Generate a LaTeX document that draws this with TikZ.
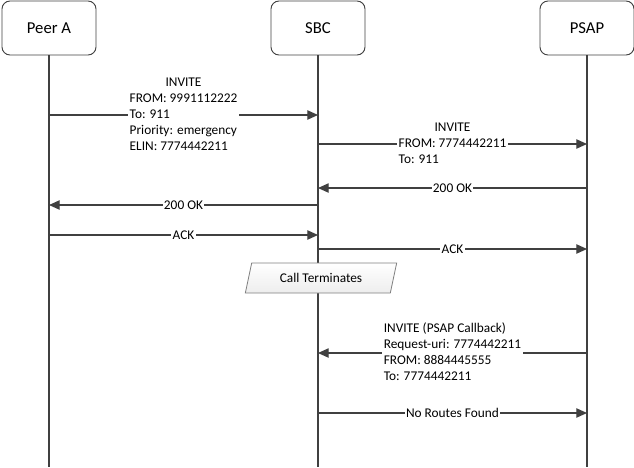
\documentclass[tikz,border=0pt]{standalone}
\usepackage{fontspec}
\setmainfont{Carlito}
\usetikzlibrary{
    arrows.meta,        % tikz's library of arrow tips
    shapes.geometric    % trapezium, used as a parallelogram
}
\definecolor{linegray}{HTML}{404040}
\definecolor{notegray}{HTML}{7F7F7F}
\tikzset{
    actor box/.style={draw=linegray, line width=0.7pt, rounded corners=6pt,
        minimum width=70.5pt, minimum height=40.5pt,
        font=\fontsize{12.5}{15}\selectfont},
    life line/.style={draw=linegray, line width=0.8pt},
    msg arrow/.style={draw=linegray, line width=0.9pt,
        -{Triangle[length=8pt, width=7pt]}},
    msg label/.style={midway, fill=white, inner sep=1pt,
        font=\fontsize{10}{12}\selectfont},
    note box/.style={trapezium, trapezium left angle=72, trapezium right angle=108,
        trapezium stretches=true,
        draw=notegray, line width=0.6pt, top color=white, bottom color=gray!14,
        minimum width=114pt, minimum height=22.5pt, inner sep=1pt,
        font=\fontsize{10}{12}\selectfont}
}

\begin{document}
\begin{tikzpicture}[x=0.75pt, y=-0.75pt]
    \useasboundingbox (0,0) rectangle (634,467);

    \node[actor box] (peer) at (49,28)  {Peer A};
    \node[actor box] (sbc)  at (318,28) {SBC};
    \node[actor box] (psap) at (587,28) {PSAP};

    \coordinate (peer end) at (49,467);
    \coordinate (sbc end)  at (318,467);
    \coordinate (psap end) at (587,467);
    \draw[life line] (peer) -- (peer end);
    \draw[life line] (sbc)  -- (sbc end);
    \draw[life line] (psap) -- (psap end);

    \draw[msg arrow] (peer |- 0,115) -- node[msg label] {%
        \begin{tabular}{@{}l@{}}
            \multicolumn{1}{@{}c@{}}{INVITE}\\
            FROM: 9991112222\\
            To: 911\\
            Priority: emergency\\
            ELIN: 7774442211
        \end{tabular}} (sbc |- 0,115);
    \draw[msg arrow] (sbc |- 0,144) -- node[msg label] {%
        \begin{tabular}{@{}l@{}}
            \multicolumn{1}{@{}c@{}}{INVITE}\\
            FROM: 7774442211\\
            To: 911
        \end{tabular}} (psap |- 0,144);
    \draw[msg arrow] (psap |- 0,188) -- node[msg label] {200 OK} (sbc |- 0,188);
    \draw[msg arrow] (sbc |- 0,205)  -- node[msg label] {200 OK} (peer |- 0,205);
    \draw[msg arrow] (peer |- 0,235) -- node[msg label] {ACK} (sbc |- 0,235);
    \draw[msg arrow] (sbc |- 0,249)  -- node[msg label] {ACK} (psap |- 0,249);

    \node[note box] (end call) at (321,278) {Call Terminates};

    \draw[msg arrow] (psap |- 0,353) -- node[msg label] {%
        \begin{tabular}{@{}l@{}}
            INVITE (PSAP Callback)\\
            Request-uri: 7774442211\\
            FROM: 8884445555\\
            To: 7774442211
        \end{tabular}} (sbc |- 0,353);
    \draw[msg arrow] (sbc |- 0,413) -- node[msg label] {No Routes Found} (psap |- 0,413);
\end{tikzpicture}
\end{document}
